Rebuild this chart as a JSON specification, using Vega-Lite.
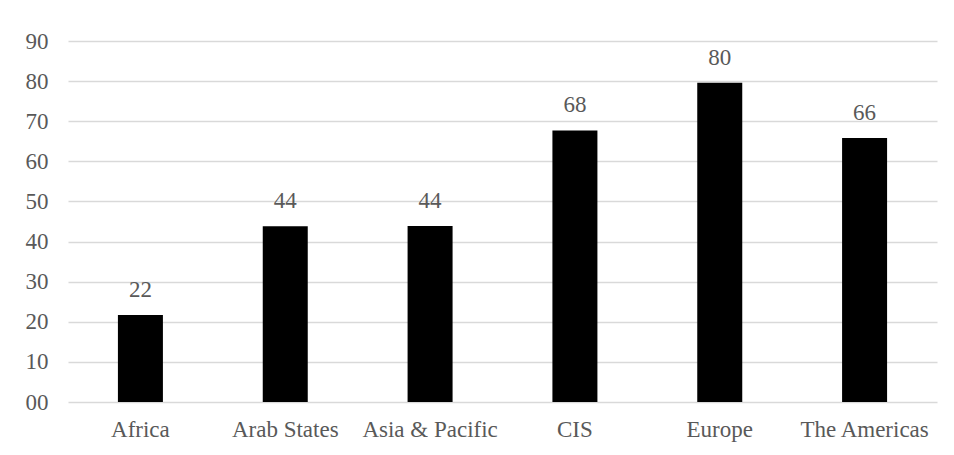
{
  "$schema": "https://vega.github.io/schema/vega-lite/v6.json",
  "width": 869,
  "height": 361,
  "autosize": {"type": "none"},
  "padding": {"left": 68, "top": 41, "right": 17, "bottom": 53},
  "background": "white",
  "config": {"view": {"stroke": null}, "font": "Liberation Serif"},
  "data": {
    "values": [
      {"region": "Africa", "value": 21.7},
      {"region": "Arab States", "value": 43.8},
      {"region": "Asia & Pacific", "value": 43.9},
      {"region": "CIS", "value": 67.7},
      {"region": "Europe", "value": 79.6},
      {"region": "The Americas", "value": 65.8}
    ]
  },
  "encoding": {
    "x": {
      "field": "region",
      "type": "nominal",
      "sort": null,
      "scale": {"paddingInner": 0, "paddingOuter": 0},
      "axis": {
        "title": null,
        "labelAngle": 0,
        "labelFont": "Liberation Serif",
        "labelFontSize": 23,
        "labelColor": "#595959",
        "labelPadding": 16,
        "domain": false,
        "ticks": false,
        "grid": false
      }
    },
    "y": {
      "field": "value",
      "type": "quantitative",
      "scale": {"domain": [0, 90], "nice": false},
      "axis": {
        "title": null,
        "values": [0, 10, 20, 30, 40, 50, 60, 70, 80, 90],
        "format": "02d",
        "labelFont": "Liberation Serif",
        "labelFontSize": 23,
        "labelColor": "#595959",
        "labelPadding": 20,
        "domain": false,
        "ticks": false,
        "grid": true,
        "gridColor": "#d9d9d9",
        "gridWidth": 1.3
      }
    }
  },
  "layer": [
    {"mark": {"type": "bar", "size": 45, "color": "black"}},
    {
      "mark": {
        "type": "text",
        "baseline": "alphabetic",
        "dy": -18,
        "font": "Liberation Serif",
        "fontSize": 23,
        "color": "#595959"
      },
      "encoding": {"text": {"field": "value", "type": "quantitative", "format": ".0f"}}
    }
  ]
}
